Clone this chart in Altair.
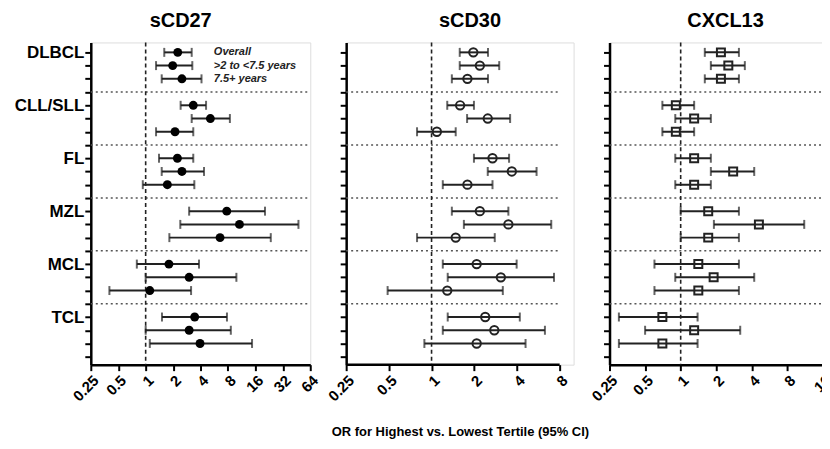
import json
import altair as alt
import pandas as pd

FONT = "Liberation Sans"

groups = ["DLBCL", "CLL/SLL", "FL", "MZL", "MCL", "TCL"]
periods = ["Overall", ">2 to <7.5 years", "7.5+ years"]

# sCD27
scd27_or = [2.25, 1.98, 2.5, 3.33, 5.13, 2.1, 2.23, 2.5, 1.73, 7.76, 10.7, 6.55, 1.8, 3.0, 1.11, 3.45, 3.0, 3.95]
scd27_lo = [1.6, 1.3, 1.5, 2.42, 3.2, 1.3, 1.4, 1.5, 0.93, 3.0, 2.4, 1.82, 0.8, 1.0, 0.40, 1.51, 1.0, 1.11]
scd27_hi = [3.2, 3.25, 4.1, 4.6, 8.4, 3.33, 3.33, 4.37, 3.42, 20.4, 47.5, 23.6, 3.85, 9.9, 3.15, 7.8, 8.6, 14.7]

# sCD30
scd30_or = [1.97, 2.19, 1.79, 1.59, 2.49, 1.09, 2.69, 3.68, 1.79, 2.19, 3.48, 1.48, 2.08, 3.08, 1.29, 2.39, 2.77, 2.08]
scd30_lo = [1.58, 1.58, 1.39, 1.29, 1.78, 0.79, 1.99, 2.49, 1.2, 1.39, 1.69, 0.79, 1.2, 1.3, 0.49, 1.3, 1.2, 0.89]
scd30_hi = [2.5, 3.0, 2.5, 1.99, 3.58, 1.48, 3.52, 5.5, 2.69, 3.48, 6.98, 2.79, 3.98, 7.3, 3.18, 4.19, 6.3, 4.6]

# CXCL13
cxcl13_or = [2.19, 2.53, 2.19, 0.91, 1.3, 0.91, 1.3, 2.78, 1.3, 1.71, 4.59, 1.71, 1.41, 1.9, 1.41, 0.7, 1.3, 0.7]
cxcl13_lo = [1.6, 1.8, 1.6, 0.7, 0.9, 0.7, 0.9, 1.8, 0.9, 1.0, 1.91, 1.0, 0.6, 0.9, 0.6, 0.3, 0.5, 0.3]
cxcl13_hi = [3.11, 3.49, 3.11, 1.3, 1.8, 1.3, 1.8, 4.19, 1.8, 3.11, 11.1, 3.11, 3.11, 4.19, 3.11, 1.39, 3.19, 1.39]

ticks27 = [0.25, 0.5, 1, 2, 4, 8, 16, 32, 64]
ticks30 = [0.25, 0.5, 1, 2, 4, 8]
ticks13 = [0.25, 0.5, 1, 2, 4, 8, 16]

rows = [g * 4 + p for g in range(len(groups)) for p in range(len(periods))]
separators = [3, 7, 11, 15, 19]
ytick_rows = list(range(24))
Y_DOMAIN = [-0.75, 23.6]


def panel(orv, lo, hi, ticks, width, extra_px, shape, filled, size, title, title_dx,
          ylabels=False, xtitle=None, legend=False):
    df = pd.DataFrame({"row": rows, "or": orv, "lo": lo, "hi": hi})
    # extra empty room on the right of the axis (axis line drawn as a rule)
    span = width - extra_px
    dmax = ticks[-1] * 2 ** ((len(ticks) - 1) * extra_px / span) if extra_px else ticks[-1]
    xscale = alt.Scale(type="log", base=2, domain=[ticks[0], dmax], nice=False)
    xaxis = alt.Axis(
        values=ticks, labelAngle=-45, labelFontSize=15, labelFont=FONT,
        labelFontWeight="bold", labelColor="black", tickSize=6, tickWidth=2,
        tickColor="black", domain=(extra_px == 0), domainColor="black",
        domainWidth=2.5, grid=False,
        labelOverlap=False, labelFlush=False, labelPadding=2,
        title=xtitle if xtitle else None,
        titleFont=FONT, titleFontSize=13, titleFontWeight="bold",
        titleColor="black", titlePadding=22,
        labelExpr="format(datum.value, '')",
    )
    if ylabels:
        expr = "datum.value % 4 == 0 ? " + json.dumps(groups) + "[datum.value / 4] : ''"
        yaxis = alt.Axis(
            values=ytick_rows, labelExpr=expr, labelFontSize=17, labelFont=FONT,
            labelFontWeight="bold", labelColor="black", labelOverlap=False,
            labelFlush=False, tickSize=6, tickWidth=2, tickColor="black",
            domainColor="black", domainWidth=2.5, grid=False, title=None,
            labelPadding=1,
        )
    else:
        yaxis = alt.Axis(
            values=ytick_rows, labels=False, tickSize=6, tickWidth=2,
            tickColor="black", domainColor="black", domainWidth=2.5,
            grid=False, title=None,
        )
    yscale = alt.Scale(domain=Y_DOMAIN, reverse=True, nice=False, zero=False)

    def X(field):
        return alt.X(field, type="quantitative", scale=xscale, axis=xaxis)

    def Y():
        return alt.Y("row:Q", scale=yscale, axis=yaxis)

    base = alt.Chart(df)
    ref = alt.Chart(pd.DataFrame({"v": [1]})).mark_rule(
        color="#222", strokeWidth=1.6, strokeDash=[4, 3]
    ).encode(x=X("v"))
    seps = alt.Chart(pd.DataFrame({"row": separators, "a": ticks[0], "b": ticks[-1]})).mark_rule(
        color="#555", strokeWidth=1.5, strokeDash=[2, 3]
    ).encode(x=X("a"), x2="b", y=Y())
    bars = base.mark_rule(color="#222", strokeWidth=2).encode(
        x=X("lo"), x2="hi", y=Y())
    cap_lo = base.mark_tick(orient="vertical", size=9, thickness=2, color="#222").encode(
        x=X("lo"), y=Y())
    cap_hi = base.mark_tick(orient="vertical", size=9, thickness=2, color="#222").encode(
        x=X("hi"), y=Y())
    if filled:
        pts = base.mark_point(shape=shape, filled=True, size=size, color="black", opacity=1).encode(
            x=X("or"), y=Y())
    else:
        pts = base.mark_point(shape=shape, filled=False, size=size, color="#222",
                              strokeWidth=2, opacity=1).encode(x=X("or"), y=Y())
    layers = [seps, ref, bars, cap_lo, cap_hi, pts]
    if extra_px:
        axis_line = alt.Chart(pd.DataFrame({"a": [ticks[0]], "b": [ticks[-1]], "row": [Y_DOMAIN[1]]})).mark_rule(
            color="black", strokeWidth=2.5
        ).encode(x=X("a"), x2="b", y=Y())
        layers.append(axis_line)
    if legend:
        leg = alt.Chart(pd.DataFrame({"row": [0, 1, 2], "label": periods})).mark_text(
            align="left", baseline="middle", font=FONT, fontSize=11,
            fontStyle="italic", fontWeight="bold", color="#222"
        ).encode(x=alt.X(datum=5.6, type="quantitative", scale=xscale, axis=xaxis),
                 y=Y(), text="label:N")
        layers.append(leg)
    return alt.layer(*layers).properties(
        width=width, height=323,
        title=alt.TitleParams(title, font=FONT, fontSize=20, fontWeight="bold",
                              color="black", anchor="start", frame="group",
                              dx=title_dx, offset=11),
    )


p1 = panel(scd27_or, scd27_lo, scd27_hi, ticks27, 220, 0, "circle", True, 80, "sCD27", 59,
           ylabels=True, legend=True)
p2 = panel(scd30_or, scd30_lo, scd30_hi, ticks30, 228, 14, "circle", False, 70, "sCD30", 93,
           xtitle="OR for Highest vs. Lowest Tertile (95% CI)")
p3 = panel(cxcl13_or, cxcl13_lo, cxcl13_hi, ticks13, 214, 0, "square", False, 64, "CXCL13", 78)

chart = alt.hconcat(p1, p2, p3, spacing=36, bounds="flush").properties(
    padding={"left": 5, "top": 1, "right": -13, "bottom": 0},
).configure_view(stroke=None).configure(background="white")

chart.save("out.html", embed_options={"renderer": "svg", "actions": False})
